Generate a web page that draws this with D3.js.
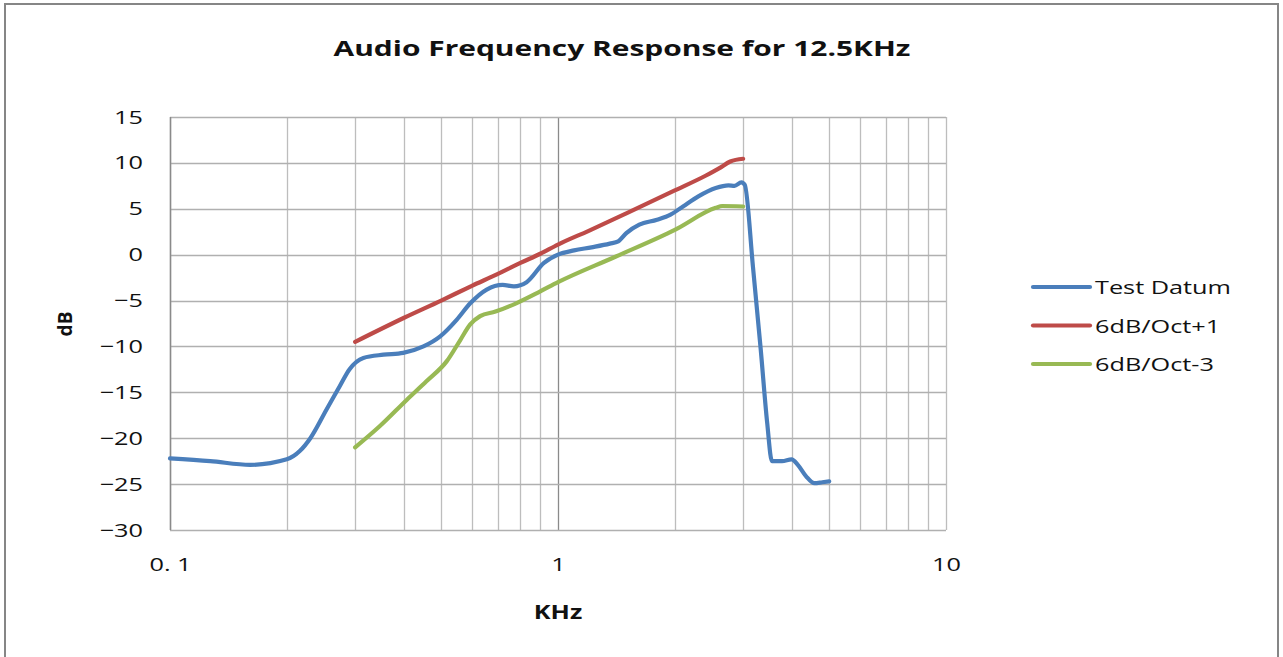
<!DOCTYPE html>
<html>
<head>
<meta charset="utf-8">
<script src="https://cdn.jsdelivr.net/npm/d3@7"></script>
<style>
  html, body { margin: 0; padding: 0; background: #fff; }
  text { font-family: "Open Sans", "DejaVu Sans", sans-serif; fill: #111; }
</style>
</head>
<body>
<svg id="chart" width="1283" height="657"></svg>
<script>
// ---------- data ----------
const title = "Audio Frequency Response for 12.5KHz";
const xTitle = "KHz";
const yTitle = "dB";
const seriesNames = ["Test Datum", "6dB/Oct+1", "6dB/Oct-3"];
const seriesColors = ["#4A7EBB", "#BE4B48", "#98B954"];

const xTickValues = [0.1, 1, 10];
const xTickLabels = ["0. 1", "1", "10"];
const yTickValues = [15, 10, 5, 0, -5, -10, -15, -20, -25, -30];

const testFreq = [0.1, 0.127, 0.161, 0.2, 0.216, 0.23, 0.253, 0.274, 0.29, 0.315, 0.355, 0.399, 0.45, 0.497, 0.548, 0.594, 0.655, 0.72, 0.77, 0.83, 0.92, 1.0, 1.1, 1.22, 1.36, 1.43, 1.5, 1.62, 1.8, 1.95, 2.1, 2.3, 2.55, 2.75, 2.85, 2.97, 3.03, 3.18, 3.33, 3.46, 3.56, 3.78, 4.0, 4.15, 4.36, 4.58, 4.8, 5.0];
const testDb   = [-22.2, -22.5, -22.9, -22.3, -21.4, -20.0, -16.9, -14.3, -12.5, -11.25, -10.9, -10.7, -10.0, -8.9, -7.1, -5.3, -3.8, -3.3, -3.45, -3.0, -0.9, 0.0, 0.47, 0.8, 1.2, 1.45, 2.35, 3.27, 3.8, 4.36, 5.26, 6.35, 7.26, 7.55, 7.5, 7.88, 7.6, -1.3, -10.3, -18.3, -22.5, -22.5, -22.3, -22.9, -24.15, -24.9, -24.8, -24.7];

const plus1Freq = [0.3, 0.4, 0.5, 0.6, 0.7, 0.8, 0.9, 1.0, 1.2, 1.5, 2.0, 2.4, 2.6, 2.78, 3.0];
const plus1Db   = [-9.5, -6.9, -5.0, -3.4, -2.1, -0.9, 0.1, 1.1, 2.6, 4.5, 7.0, 8.6, 9.4, 10.15, 10.45];

const minus3Freq = [0.3, 0.347, 0.408, 0.458, 0.517, 0.56, 0.594, 0.63, 0.69, 0.78, 0.9, 1.0, 1.41, 2.0, 2.55, 2.65, 3.0];
const minus3Db   = [-21.0, -18.7, -15.8, -13.8, -11.6, -9.3, -7.6, -6.7, -6.2, -5.3, -4.0, -3.0, -0.2, 2.7, 5.1, 5.3, 5.25];

// ---------- layout ----------
const svg = d3.select("#chart");
const plot = { left: 170, right: 946, top: 117, bottom: 530 };
const STRETCH = 1.33; // reference text is horizontally stretched

const x = d3.scaleLog().domain([0.1, 10]).range([plot.left, plot.right]);
const y = d3.scaleLinear().domain([-30, 15]).range([plot.bottom, plot.top]);

function stretch(sel, k) {
  sel.each(function () {
    const w = this.getComputedTextLength();
    d3.select(this).attr("textLength", w * k).attr("lengthAdjust", "spacingAndGlyphs");
  });
}

// outer frame
svg.append("rect").attr("x", 5).attr("y", 4).attr("width", 1273).attr("height", 700)
  .attr("fill", "#fff").attr("stroke", "#868686").attr("stroke-width", 2);

// gridlines
const minorX = [];
[0.1, 1].forEach(d => { for (let k = 1; k <= 9; k++) minorX.push(d * k); });
minorX.push(10);
const g = svg.append("g");
g.selectAll("line.vx").data(minorX).join("line")
  .attr("x1", d => Math.round(x(d)) + 0.5).attr("x2", d => Math.round(x(d)) + 0.5)
  .attr("y1", plot.top).attr("y2", plot.bottom)
  .attr("stroke", d => (Math.abs(d - 1) < 1e-9) ? "#8a8a8a" : "#bdbdbd").attr("stroke-width", 1.3);
g.selectAll("line.hy").data(yTickValues).join("line")
  .attr("x1", plot.left).attr("x2", plot.right)
  .attr("y1", d => Math.round(y(d)) + 0.5).attr("y2", d => Math.round(y(d)) + 0.5)
  .attr("stroke", "#b0b0b0").attr("stroke-width", 1.3);
// left axis line
svg.append("line").attr("x1", plot.left + 0.5).attr("x2", plot.left + 0.5)
  .attr("y1", plot.top).attr("y2", plot.bottom).attr("stroke", "#8a8a8a").attr("stroke-width", 1.5);

// axes (labels only)
const yAxis = d3.axisLeft(y).tickValues(yTickValues).tickSize(0).tickPadding(0);
const ya = svg.append("g").attr("transform", `translate(${plot.left - 27},0)`).call(yAxis);
ya.select(".domain").remove();
ya.selectAll("text").style("font-size", "19px").attr("fill", "#111")
  .style("font-family", "'Open Sans', sans-serif");
stretch(ya.selectAll("text"), STRETCH);

const xAxis = d3.axisBottom(x).tickValues(xTickValues).tickSize(0).tickPadding(0)
  .tickFormat((d, i) => xTickLabels[i]);
const xa = svg.append("g").attr("transform", `translate(0,${plot.bottom + 27})`).call(xAxis);
xa.select(".domain").remove();
xa.selectAll("text").style("font-size", "19px").attr("fill", "#111")
  .style("font-family", "'Open Sans', sans-serif");
stretch(xa.selectAll("text"), STRETCH);

// series
const series = [
  { name: seriesNames[0], color: seriesColors[0], f: testFreq, v: testDb },
  { name: seriesNames[1], color: seriesColors[1], f: plus1Freq, v: plus1Db },
  { name: seriesNames[2], color: seriesColors[2], f: minus3Freq, v: minus3Db }
];
const line = d3.line().x(d => x(d[0])).y(d => y(d[1])).curve(d3.curveMonotoneX);
[series[2], series[1], series[0]].forEach(s => {
  svg.append("path").datum(s.f.map((f, i) => [f, s.v[i]]))
    .attr("d", line).attr("fill", "none").attr("stroke", s.color)
    .attr("stroke-width", 4.2).attr("stroke-linejoin", "round").attr("stroke-linecap", "round");
});

// title
const t = svg.append("text").attr("x", 622).attr("y", 56).attr("text-anchor", "middle")
  .style("font-size", "22px").style("font-weight", "bold").text(title);
stretch(t, 1.36);

// axis titles
const xt = svg.append("text").attr("x", x(1)).attr("y", 619).attr("text-anchor", "middle")
  .style("font-size", "19px").style("font-weight", "bold").text(xTitle);
stretch(xt, STRETCH);
svg.append("text").attr("transform", "translate(72,324) rotate(-90)").attr("text-anchor", "middle")
  .style("font-size", "19px").style("font-weight", "bold").text(yTitle);

// legend
const lg = svg.append("g");
series.forEach((s, i) => {
  const yy = 287 + i * 38.5;
  lg.append("line").attr("x1", 1033).attr("x2", 1090).attr("y1", yy).attr("y2", yy)
    .attr("stroke", s.color).attr("stroke-width", 4.2).attr("stroke-linecap", "round");
  const tx = lg.append("text").attr("x", 1095).attr("y", yy + 7).style("font-size", "19px").text(s.name);
  stretch(tx, STRETCH);
});
</script>
</body>
</html>
